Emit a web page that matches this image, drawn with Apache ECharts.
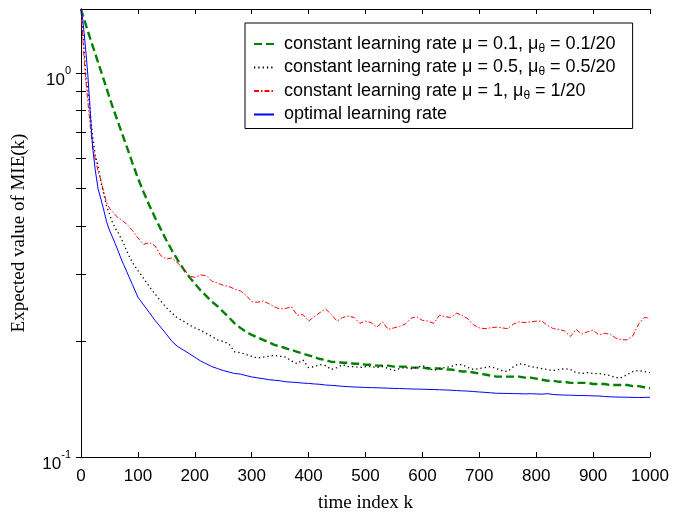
<!DOCTYPE html>
<html>
<head>
<meta charset="utf-8">
<script src="https://cdn.jsdelivr.net/npm/echarts@6/dist/echarts.min.js"></script>
<style>
  html, body { margin: 0; padding: 0; background: #fff; }
  #chart { width: 673px; height: 514px; }
</style>
</head>
<body>
<div id="chart"></div>
<script>
// time index samples
const kIdx = [0, 3, 6, 9, 12, 15, 18, 21, 25, 30, 35, 40, 45, 50, 55, 60, 65, 70, 75, 80,
  90, 100, 110, 120, 130, 140, 150, 160, 170, 180, 190, 200, 210, 220, 230, 240, 250, 260, 270, 280,
  290, 300, 310, 320, 330, 340, 350, 360, 370, 380, 390, 400, 410, 420, 430, 440, 450, 460, 470, 480,
  490, 500, 510, 520, 530, 540, 550, 560, 570, 580, 590, 600, 610, 620, 630, 640, 650, 660, 670, 680,
  690, 700, 710, 720, 730, 740, 750, 760, 770, 780, 790, 800, 810, 820, 830, 840, 850, 860, 870, 880,
  890, 900, 910, 920, 930, 940, 950, 960, 970, 980, 990, 1000];

// mu = 0.1
const mie01 = [1.47, 1.42, 1.374, 1.33, 1.288, 1.247, 1.21, 1.172, 1.125, 1.067, 1.014, 0.962, 0.912, 0.865, 0.822, 0.783, 0.746, 0.711, 0.678, 0.646,
  0.586, 0.533, 0.49, 0.453, 0.421, 0.393, 0.367, 0.345, 0.326, 0.309, 0.295, 0.283, 0.272, 0.263, 0.254, 0.247, 0.239, 0.231, 0.223, 0.217,
  0.212, 0.208, 0.205, 0.202, 0.199, 0.196, 0.194, 0.192, 0.190, 0.188, 0.186, 0.184, 0.182, 0.180, 0.179, 0.177, 0.177, 0.176, 0.176, 0.175,
  0.175, 0.174, 0.174, 0.173, 0.173, 0.173, 0.172, 0.172, 0.172, 0.171, 0.171, 0.171, 0.170, 0.170, 0.170, 0.169, 0.169, 0.168, 0.167, 0.167,
  0.166, 0.165, 0.164, 0.163, 0.162, 0.162, 0.162, 0.162, 0.162, 0.161, 0.161, 0.160, 0.159, 0.158, 0.158, 0.157, 0.157, 0.156, 0.156, 0.156,
  0.156, 0.155, 0.155, 0.155, 0.154, 0.154, 0.154, 0.154, 0.153, 0.153, 0.152, 0.151];

// mu = 0.5
const mie05 = [1.47, 1.30, 1.12, 0.97, 0.90, 0.83, 0.74, 0.675, 0.611, 0.575, 0.52, 0.485, 0.45, 0.43, 0.41, 0.395, 0.385, 0.372, 0.36, 0.345,
  0.322, 0.306, 0.292, 0.278, 0.266, 0.255, 0.245, 0.237, 0.230, 0.226, 0.221, 0.217, 0.214, 0.210, 0.206, 0.202, 0.200, 0.197, 0.188, 0.187,
  0.185, 0.183, 0.181, 0.182, 0.183, 0.184, 0.183, 0.182, 0.178, 0.175, 0.179, 0.171, 0.172, 0.174, 0.173, 0.169, 0.171, 0.174, 0.172, 0.172,
  0.171, 0.172, 0.172, 0.171, 0.172, 0.170, 0.168, 0.170, 0.171, 0.170, 0.171, 0.173, 0.171, 0.168, 0.170, 0.171, 0.172, 0.174, 0.174, 0.171,
  0.169, 0.170, 0.171, 0.172, 0.170, 0.168, 0.167, 0.172, 0.175, 0.174, 0.172, 0.171, 0.170, 0.169, 0.168, 0.169, 0.170, 0.169, 0.166, 0.165,
  0.166, 0.165, 0.165, 0.164, 0.163, 0.161, 0.161, 0.164, 0.167, 0.168, 0.167, 0.166];

// mu = 1
const mie1 = [1.47, 1.24, 1.07, 0.94, 0.845, 0.76, 0.69, 0.64, 0.60, 0.555, 0.527, 0.49, 0.46, 0.445, 0.436, 0.428, 0.42, 0.416, 0.41, 0.405,
  0.39, 0.372, 0.358, 0.362, 0.355, 0.335, 0.328, 0.33, 0.32, 0.31, 0.296, 0.294, 0.298, 0.297, 0.287, 0.284, 0.280, 0.278, 0.274, 0.271,
  0.264, 0.254, 0.253, 0.255, 0.251, 0.246, 0.243, 0.244, 0.246, 0.234, 0.235, 0.226, 0.232, 0.238, 0.243, 0.235, 0.226, 0.231, 0.233, 0.231,
  0.223, 0.226, 0.224, 0.218, 0.225, 0.215, 0.217, 0.219, 0.222, 0.230, 0.232, 0.227, 0.226, 0.223, 0.234, 0.232, 0.231, 0.237, 0.234, 0.229,
  0.221, 0.217, 0.216, 0.217, 0.218, 0.217, 0.216, 0.222, 0.225, 0.224, 0.225, 0.226, 0.226, 0.220, 0.216, 0.215, 0.213, 0.206, 0.215, 0.209,
  0.212, 0.214, 0.208, 0.210, 0.209, 0.204, 0.202, 0.202, 0.207, 0.222, 0.231, 0.230];

// optimal
const mieOpt = [1.47, 1.38, 1.25, 1.12, 0.99, 0.85, 0.72, 0.63, 0.56, 0.50, 0.47, 0.44, 0.41, 0.39, 0.375, 0.36, 0.345, 0.33, 0.317, 0.305,
  0.282, 0.261, 0.249, 0.238, 0.227, 0.218, 0.209, 0.200, 0.194, 0.190, 0.186, 0.182, 0.178, 0.175, 0.172, 0.170, 0.168, 0.1665, 0.165, 0.1645,
  0.163, 0.1617, 0.1608, 0.160, 0.159, 0.1585, 0.158, 0.157, 0.1567, 0.1563, 0.1558, 0.1555, 0.155, 0.1547, 0.154, 0.1537, 0.1533, 0.1528, 0.1525, 0.1522,
  0.152, 0.1517, 0.1516, 0.1515, 0.1513, 0.1511, 0.1509, 0.1508, 0.1506, 0.1504, 0.1503, 0.1502, 0.150, 0.1499, 0.1497, 0.1495, 0.1493, 0.149, 0.1487, 0.1485,
  0.1481, 0.1477, 0.1474, 0.147, 0.1466, 0.1465, 0.1464, 0.1463, 0.1462, 0.146, 0.1462, 0.146, 0.1458, 0.1462, 0.1455, 0.1452, 0.145, 0.1449, 0.1447, 0.1446,
  0.1445, 0.1443, 0.1442, 0.1438, 0.1435, 0.1433, 0.1432, 0.1431, 0.143, 0.1429, 0.143, 0.1431];

const xTicks = [0, 100, 200, 300, 400, 500, 600, 700, 800, 900, 1000];
const yLabels = [0.1, 1];
const yTicks = [0.1, 0.2, 0.3, 0.4, 0.5, 0.6, 0.7, 0.8, 0.9, 1];

const names = ['c01', 'c05', 'c1', 'opt'];
const legendText = {
  c01: 'constant learning rate \u03bc = 0.1, \u03bc{sub|\u03b8} = 0.1/20',
  c05: 'constant learning rate \u03bc = 0.5, \u03bc{sub|\u03b8} = 0.5/20',
  c1: 'constant learning rate \u03bc = 1, \u03bc{sub|\u03b8} = 1/20',
  opt: 'optimal learning rate'
};

const pairs = arr => kIdx.map((k, i) => [k, arr[i]]);
const sans = 'Liberation Sans';

const chart = echarts.init(document.getElementById('chart'));
const tickStyle = { inside: true, length: 5, lineStyle: { color: '#000', width: 1 } };
const lineStyle = { lineStyle: { color: '#000', width: 1 } };

chart.setOption({
  animation: false,
  backgroundColor: '#fff',
  grid: { left: 81, right: 23, top: 9, bottom: 57, containLabel: false, outerBoundsMode: 'none' },
  legend: {
    orient: 'vertical',
    left: 245,
    top: 23,
    padding: [12, 17, 5, 8],
    itemGap: 4,
    itemWidth: 20,
    itemHeight: 14,
    borderColor: '#000',
    borderWidth: 1,
    backgroundColor: '#fff',
    itemStyle: { opacity: 0 },
    data: names,
    formatter: n => legendText[n],
    textStyle: {
      fontFamily: sans, fontSize: 18, color: '#000', padding: [0, 0, 0, 5],
      rich: { sub: { fontFamily: sans, fontSize: 12, color: '#000', padding: [9, 0, 0, 0] } }
    }
  },
  xAxis: [{
    type: 'value', min: 0, max: 1000, interval: 100,
    axisLine: lineStyle, axisTick: tickStyle, splitLine: { show: false },
    axisLabel: { color: '#000', fontFamily: sans, fontSize: 17, margin: 11, customValues: xTicks,
      formatter: v => String(v) },
    name: 'time index k', nameLocation: 'middle', nameGap: 37,
    nameTextStyle: { fontFamily: 'Liberation Serif', fontSize: 19, color: '#000' }
  }, {
    type: 'value', position: 'top', min: 0, max: 1000, interval: 100,
    axisLine: lineStyle, axisTick: tickStyle, axisLabel: { show: false }, splitLine: { show: false }
  }],
  yAxis: [{
    type: 'log', logBase: 10, min: 0.1, max: 1.47,
    axisLine: lineStyle,
    axisTick: Object.assign({ customValues: yTicks }, tickStyle),
    splitLine: { show: false },
    minorTick: { show: false },
    axisLabel: {
      customValues: yLabels, margin: 10, color: '#000', padding: [8, 0, 0, 0],
      formatter: v => v < 0.5 ? '{b|10}{s|-1}' : '{b|10}{s|0}',
      rich: {
        b: { fontFamily: sans, fontSize: 17, color: '#000', lineHeight: 24, verticalAlign: 'bottom' },
        s: { fontFamily: sans, fontSize: 11, color: '#000', verticalAlign: 'top' }
      }
    },
    name: 'Expected value of MIE(k)', nameLocation: 'middle', nameRotate: 90, nameGap: 52,
    nameTextStyle: { fontFamily: 'Liberation Serif', fontSize: 19, color: '#000' }
  }, {
    type: 'log', logBase: 10, min: 0.1, max: 1.47, position: 'right',
    axisLine: lineStyle,
    axisTick: Object.assign({ customValues: yTicks }, tickStyle),
    axisLabel: { show: false }, splitLine: { show: false }
  }],
  series: [
    { name: 'c01', type: 'line', data: pairs(mie01), symbol: 'none', color: '#008000',
      lineStyle: { color: '#008000', width: 2.4, type: [8, 4] } },
    { name: 'c05', type: 'line', data: pairs(mie05), symbol: 'none', color: '#000',
      lineStyle: { color: '#000', width: 1.3, type: [1.3, 3] } },
    { name: 'c1', type: 'line', data: pairs(mie1), symbol: 'none', color: '#ff0000',
      lineStyle: { color: '#ff0000', width: 1, type: [5, 2, 1.5, 2] } },
    { name: 'opt', type: 'line', data: pairs(mieOpt), symbol: 'none', color: '#0000ff',
      lineStyle: { color: '#0000ff', width: 1 } }
  ]
});
</script>
</body>
</html>
